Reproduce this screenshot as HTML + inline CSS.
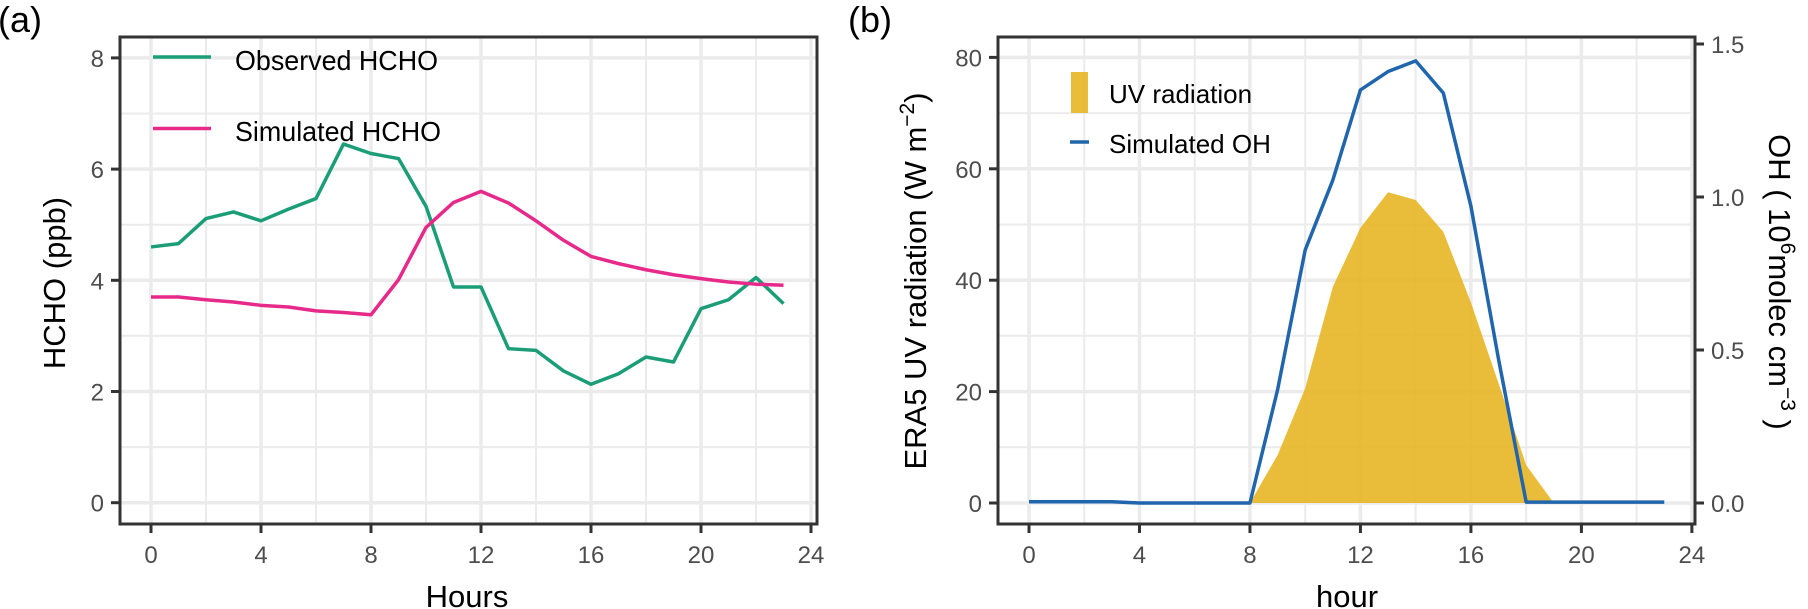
<!DOCTYPE html>
<html><head><meta charset="utf-8"><style>
body{margin:0;background:#fff}
svg{display:block;font-family:"Liberation Sans",sans-serif}
</style></head><body>
<svg id="c" width="1808" height="609" viewBox="0 0 1808 609"></svg>
<script>
const hours=[0,1,2,3,4,5,6,7,8,9,10,11,12,13,14,15,16,17,18,19,20,21,22,23];
const observedHCHO=[4.6,4.66,5.11,5.23,5.07,5.28,5.47,6.45,6.28,6.19,5.33,3.88,3.88,2.77,2.74,2.37,2.13,2.32,2.62,2.53,3.49,3.65,4.05,3.58];
const simulatedHCHO=[3.7,3.7,3.65,3.61,3.55,3.52,3.45,3.42,3.38,4.01,4.95,5.4,5.6,5.39,5.07,4.72,4.43,4.3,4.19,4.1,4.03,3.97,3.93,3.91];
const uvRadiation=[0,0,0,0,0,0,0,0,0,8.6,20.6,38.8,49.4,55.8,54.4,48.7,36,21.5,6.8,0,0,0,0,0];
const simulatedOH=[0.004,0.004,0.004,0.004,0,0,0,0,0,0.37,0.827,1.055,1.35,1.41,1.445,1.34,0.97,0.47,0.003,0.003,0.003,0.003,0.003,0.003];
const xTicks=[0,4,8,12,16,20,24];
const yTicksA=[0,2,4,6,8];
const yTicksB=[0,20,40,60,80];
const yTicksOH=["0.0","0.5","1.0","1.5"];

const NS="http://www.w3.org/2000/svg";
const svg=document.getElementById('c');
function mk(tag,attrs,parent,txt){const e=document.createElementNS(NS,tag);for(const k in attrs)e.setAttribute(k,attrs[k]);if(txt!==undefined)e.textContent=txt;(parent||svg).appendChild(e);return e;}

const axA=h=>151+h*27.5;
const ayA=v=>502.7-v*55.6;
const axB=h=>1029+h*27.62;
const ayB=v=>503-v*5.57;
const ayOH=v=>503-v*306;

function grid(g,x0,x1,y0,y1,ax,ay,ymaj,ymin){
  for(let h=2;h<=24;h+=4){const l=mk('line',{x1:ax(h),x2:ax(h),y1:y0,y2:y1,stroke:'#ebebeb','stroke-width':2},g);}
  ymin.forEach(v=>{const l=mk('line',{x1:x0,x2:x1,y1:ay(v),y2:ay(v),stroke:'#ebebeb','stroke-width':2},g);});
  xTicks.forEach(h=>{const l=mk('line',{x1:ax(h),x2:ax(h),y1:y0,y2:y1,stroke:'#ebebeb','stroke-width':3.5},g);});
  ymaj.forEach(v=>{const l=mk('line',{x1:x0,x2:x1,y1:ay(v),y2:ay(v),stroke:'#ebebeb','stroke-width':3.5},g);});
}
function xaxis(g,ax,bottom){
  xTicks.forEach(h=>{
    const t=mk('line',{x1:ax(h),x2:ax(h),y1:bottom,y2:bottom+9,stroke:'#333','stroke-width':3},g);
    
    const l=mk('text',{x:ax(h),y:bottom+39,'text-anchor':'middle','font-size':24,fill:'#4d4d4d'},g,String(h));
    
  });
}
function line(g,vals,ax,ay,color,name){
  const p=mk('polyline',{points:hours.map((h,i)=>ax(h)+','+ay(vals[i])).join(' '),fill:'none',stroke:color,'stroke-width':3.5,'stroke-linejoin':'round'},g);
  
}

// ===== Panel A =====
const gA=mk('g',{});
grid(gA,120,817,37,524,axA,ayA,yTicksA,[1,3,5,7]);
line(gA,observedHCHO,axA,ayA,'#1b9e77','observed-hcho-line');
line(gA,simulatedHCHO,axA,ayA,'#e7298a','simulated-hcho-line');
mk('rect',{x:120,y:37,width:697,height:487,fill:'none',stroke:'#333','stroke-width':3},gA);
yTicksA.forEach(v=>{
  const t=mk('line',{x1:111,x2:120,y1:ayA(v),y2:ayA(v),stroke:'#333','stroke-width':3},gA);
  
  const l=mk('text',{x:104,y:ayA(v)+9,'text-anchor':'end','font-size':24,fill:'#4d4d4d'},gA,String(v));
  
});
xaxis(gA,axA,524);
let t=mk('text',{x:467,y:607,'text-anchor':'middle','font-size':31,fill:'#000'},gA,'Hours');
t=mk('text',{x:0,y:0,transform:'translate(65,283) rotate(-90)','text-anchor':'middle','font-size':31,fill:'#000'},gA,'HCHO (ppb)');
t=mk('text',{x:-2,y:32,'font-size':36,fill:'#000'},gA,'(a)');
const lgA=mk('g',{},gA);
mk('line',{x1:153,x2:211,y1:57,y2:57,stroke:'#1b9e77','stroke-width':3.5},lgA);
t=mk('text',{x:235,y:70,'font-size':28,fill:'#000',textLength:203,lengthAdjust:'spacingAndGlyphs'},lgA,'Observed HCHO');
mk('line',{x1:153,x2:211,y1:128.5,y2:128.5,stroke:'#e7298a','stroke-width':3.5},lgA);
t=mk('text',{x:235,y:141,'font-size':28,fill:'#000',textLength:206,lengthAdjust:'spacingAndGlyphs'},lgA,'Simulated HCHO');

// ===== Panel B =====
const gB=mk('g',{});
grid(gB,998,1695,37,524,axB,ayB,yTicksB,[10,30,50,70]);
const area=mk('polygon',{points:[axB(0)+','+ayB(0)].concat(hours.map((h,i)=>axB(h)+','+ayB(uvRadiation[i]))).concat([axB(23)+','+ayB(0)]).join(' '),fill:'#e6b41e','fill-opacity':0.88},gB);

line(gB,simulatedOH,axB,ayOH,'#2166ac','simulated-oh-line');
mk('rect',{x:998,y:37,width:697,height:487,fill:'none',stroke:'#333','stroke-width':3},gB);
yTicksB.forEach(v=>{
  const tk=mk('line',{x1:989,x2:998,y1:ayB(v),y2:ayB(v),stroke:'#333','stroke-width':3},gB);
  
  const l=mk('text',{x:982,y:ayB(v)+9,'text-anchor':'end','font-size':24,fill:'#4d4d4d'},gB,String(v));
  
});
yTicksOH.forEach(s=>{
  const v=parseFloat(s);
  const tk=mk('line',{x1:1695,x2:1704,y1:ayOH(v),y2:ayOH(v),stroke:'#333','stroke-width':3},gB);
  
  const l=mk('text',{x:1711,y:ayOH(v)+9,'font-size':24,fill:'#4d4d4d'},gB,s);
  
});
xaxis(gB,axB,524);
t=mk('text',{x:1347,y:607,'text-anchor':'middle','font-size':31,fill:'#000'},gB,'hour');
t=mk('text',{x:0,y:0,transform:'translate(926,281) rotate(-90)','text-anchor':'middle','font-size':31,fill:'#000'},gB);
t.innerHTML='ERA5 UV radiation (W  m<tspan dy="-12" font-size="21">−2</tspan><tspan dy="12">)</tspan>';

t=mk('text',{x:0,y:0,transform:'translate(1769,282) rotate(90)','text-anchor':'middle','font-size':31,fill:'#000'},gB);
t.innerHTML='OH ( 10<tspan dy="-12" font-size="21">6</tspan><tspan dy="12">molec  cm</tspan><tspan dy="-12" font-size="21">−3</tspan><tspan dy="12"> )</tspan>';

t=mk('text',{x:848,y:32,'font-size':36,fill:'#000'},gB,'(b)');
const lgB=mk('g',{},gB);
mk('rect',{x:1071,y:72,width:17,height:41,fill:'#e6b41e','fill-opacity':0.88},lgB);
t=mk('text',{x:1109,y:103,'font-size':26,fill:'#000'},lgB,'UV radiation');
mk('line',{x1:1070,x2:1089,y1:142,y2:142,stroke:'#2166ac','stroke-width':3.5},lgB);
t=mk('text',{x:1109,y:153,'font-size':26,fill:'#000'},lgB,'Simulated OH');
</script>
</body></html>
